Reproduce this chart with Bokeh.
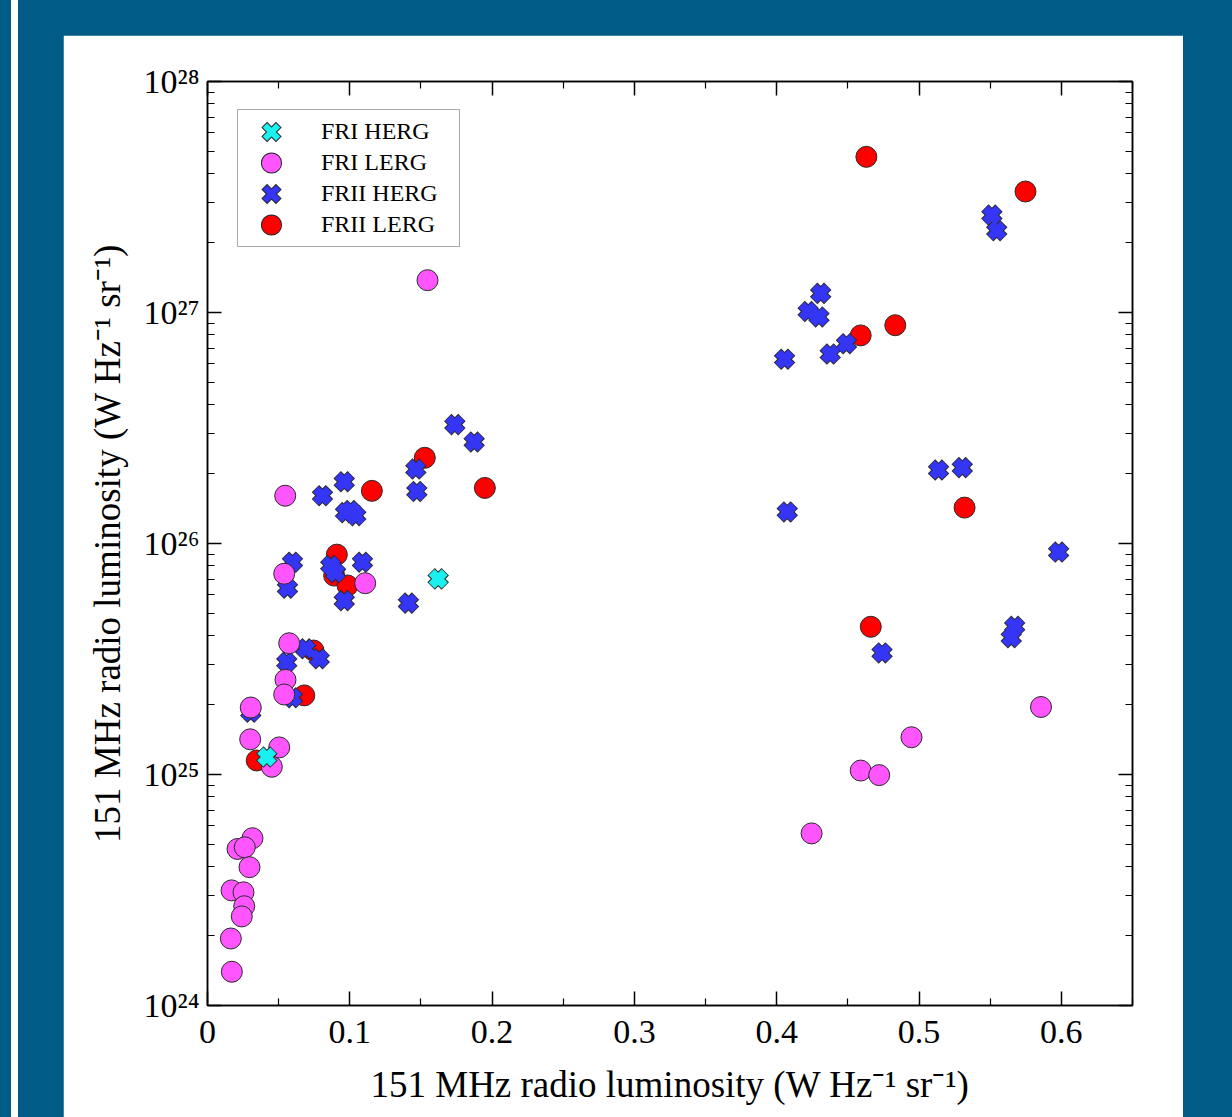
from bokeh.plotting import figure
from bokeh.layouts import row
from bokeh.models import (Range1d, LogAxis, LinearAxis, FixedTicker, CustomJSTickFormatter,
                          Legend, LegendItem, Div)
from bokeh.embed import file_html
from bokeh.resources import INLINE

# ---------------- data ----------------
fri_herg_x = [0.1621, 0.0417]
fri_herg_y = [7.03e25, 1.19e25]

fri_lerg_x = [0.1546, 0.0546, 0.0539, 0.1108, 0.0574, 0.0548, 0.0539, 0.0304, 0.0300,
              0.0504, 0.0452, 0.0316, 0.0211, 0.0262, 0.0295, 0.0169, 0.0253, 0.0258,
              0.0241, 0.0164, 0.0171, 0.5857, 0.4947, 0.4590, 0.4720, 0.4245]
fri_lerg_y = [1.38e27, 1.61e26, 7.40e25, 6.73e25, 3.70e25, 2.57e25, 2.22e25, 1.95e25, 1.42e25,
              1.31e25, 1.08e25, 5.30e24, 4.76e24, 4.84e24, 3.97e24, 3.15e24, 3.09e24, 2.69e24,
              2.43e24, 1.95e24, 1.40e24, 1.96e25, 1.45e25, 1.04e25, 9.94e24, 5.56e24]

frii_herg_x = [0.1738, 0.1874, 0.1464, 0.1471, 0.0961, 0.0808, 0.0970, 0.1042, 0.1005,
               0.0597, 0.0562, 0.0866, 0.0900, 0.1089, 0.0961, 0.1412, 0.0557, 0.0785,
               0.0691, 0.0597, 0.0304, 0.5512, 0.5546, 0.4309, 0.4221, 0.4297, 0.4490,
               0.4376, 0.4055, 0.4074, 0.5137, 0.5304, 0.5981, 0.4740, 0.5672, 0.5648]
frii_herg_y = [3.27e26, 2.75e26, 2.10e26, 1.68e26, 1.85e26, 1.61e26, 1.36e26, 1.32e26, 1.39e26,
               8.30e25, 6.41e25, 8.03e25, 7.48e25, 8.30e25, 5.66e25, 5.52e25, 3.06e25, 3.17e25,
               3.50e25, 2.15e25, 1.86e25, 2.64e27, 2.26e27, 1.21e27, 1.01e27, 9.57e26, 7.33e26,
               6.61e26, 6.28e26, 1.37e26, 2.08e26, 2.13e26, 9.18e25, 3.36e25, 4.38e25, 3.91e25]

frii_lerg_x = [0.1527, 0.1949, 0.1155, 0.0909, 0.0890, 0.0984, 0.0745, 0.0680, 0.0346,
               0.4630, 0.5748, 0.4833, 0.4590, 0.5320, 0.4661]
frii_lerg_y = [2.35e26, 1.74e26, 1.69e26, 8.95e25, 7.26e25, 6.58e25, 3.44e25, 2.20e25, 1.15e25,
               4.72e27, 3.34e27, 8.81e26, 7.96e26, 1.43e26, 4.36e25]

labels = ["FRI HERG", "FRI LERG", "FRII HERG", "FRII LERG"]
x_major = [0, 0.1, 0.2, 0.3, 0.4, 0.5, 0.6]
x_minor = [0.05, 0.15, 0.25, 0.35, 0.45, 0.55, 0.65]
y_major = [1e24, 1e25, 1e26, 1e27, 1e28]
y_minor = [k * 10.0 ** n for n in range(24, 28) for k in range(2, 10)]

x_label = "151 MHz radio luminosity (W Hz\u207b\u00b9 sr\u207b\u00b9)"
y_label = "151 MHz radio luminosity (W Hz\u207b\u00b9 sr\u207b\u00b9)"

# ---------------- style ----------------
BG = "#015b87"
FONT = "Liberation Serif"
C_CYAN = "#1af0f0"
C_MAG = "#ff55ff"
C_BLUE = "#3535f5"
C_RED = "#ff0000"
EDGE = "#2a2a2a"

p = figure(width=1120, height=1082, x_range=Range1d(0, 0.65), y_range=Range1d(1e24, 1e28),
           y_axis_type="log", output_backend="svg", toolbar_location=None,
           title_location=None,
           min_border_left=144, min_border_right=51, min_border_top=46, min_border_bottom=112,
           border_fill_color="white", background_fill_color="white",
           outline_line_color="black", outline_line_width=1.5,
           margin=(35, 0, 0, 45))
p.grid.visible = False

xt = FixedTicker(ticks=x_major, minor_ticks=x_minor)
yt = FixedTicker(ticks=y_major, minor_ticks=y_minor)

xfmt = CustomJSTickFormatter(code="return tick == 0 ? '0' : tick.toFixed(1);")
yfmt = CustomJSTickFormatter(code="""
const sup = {'0':'\u2070','1':'\u00b9','2':'\u00b2','3':'\u00b3','4':'\u2074','5':'\u2075','6':'\u2076','7':'\u2077','8':'\u2078','9':'\u2079','-':'\u207b'};
const e = Math.round(Math.log10(tick));
return '10' + String(e).split('').map(c => sup[c]).join('');
""")
blank = CustomJSTickFormatter(code="return '';")


def style_axis(ax):
    ax.axis_line_color = "black"
    ax.axis_line_width = 1.5
    ax.major_tick_in = 14
    ax.major_tick_out = 0
    ax.minor_tick_in = 7
    ax.minor_tick_out = 0
    ax.major_tick_line_color = "black"
    ax.major_tick_line_width = 1.5
    ax.minor_tick_line_color = "black"
    ax.minor_tick_line_width = 1.2
    ax.major_label_text_font = FONT
    ax.major_label_text_font_size = "34px"
    ax.major_label_text_color = "black"
    ax.axis_label_text_font = FONT
    ax.axis_label_text_font_size = "37px"
    ax.axis_label_text_font_style = "normal"
    ax.axis_label_text_color = "black"


xa = p.xaxis[0]
xa.ticker = xt
xa.formatter = xfmt
style_axis(xa)
xa.major_label_standoff = 15
xa.axis_label = x_label
xa.axis_label_standoff = 18

ya = p.yaxis[0]
ya.ticker = yt
ya.formatter = yfmt
style_axis(ya)
ya.major_label_standoff = 8
ya.axis_label = y_label
ya.axis_label_standoff = 12

top = LinearAxis(ticker=xt, formatter=blank)
style_axis(top)
top.major_label_text_font_size = "0px"
top.major_label_standoff = 0
p.add_layout(top, "above")

right = LogAxis(ticker=yt, formatter=blank)
style_axis(right)
right.major_label_text_font_size = "0px"
right.major_label_standoff = 0
p.add_layout(right, "right")

# ---------------- glyphs (bottom to top) ----------------
r_red = p.scatter(frii_lerg_x, frii_lerg_y, marker="circle", size=21,
                  fill_color=C_RED, line_color=EDGE, line_width=1)

r_blue_o = p.scatter(frii_herg_x, frii_herg_y, marker="x", size=20,
                     line_color=EDGE, line_width=10.5)
r_blue_f = p.scatter(frii_herg_x, frii_herg_y, marker="x", size=18.5,
                     line_color=C_BLUE, line_width=8.5)

r_mag = p.scatter(fri_lerg_x, fri_lerg_y, marker="circle", size=21,
                  fill_color=C_MAG, line_color=EDGE, line_width=1)

r_cyan_o = p.scatter(fri_herg_x, fri_herg_y, marker="x", size=20,
                     line_color=EDGE, line_width=10.5)
r_cyan_f = p.scatter(fri_herg_x, fri_herg_y, marker="x", size=18.5,
                     line_color=C_CYAN, line_width=8.5)

# legend-only swatches: a single NaN point (never drawn in the plot);
# the legend computes their size from the glyph box
NAN = float("nan")


def circle_swatch(color):
    a = p.scatter([NAN], [NAN], marker="circle", fill_color=color,
                  line_color=EDGE, line_width=8.8)
    b = p.scatter([NAN], [NAN], marker="circle", fill_color=color,
                  line_color=color, line_width=6.8)
    return [a, b]


def x_swatch(color):
    a = p.scatter([NAN], [NAN], marker="x", line_color=EDGE, line_width=8.2,
                  line_cap="square")
    b = p.scatter([NAN], [NAN], marker="x", line_color=color, line_width=6.2,
                  line_cap="square")
    return [a, b]


legend = Legend(items=[
    LegendItem(label=labels[0], renderers=x_swatch(C_CYAN)),
    LegendItem(label=labels[1], renderers=circle_swatch(C_MAG)),
    LegendItem(label=labels[2], renderers=x_swatch(C_BLUE)),
    LegendItem(label=labels[3], renderers=circle_swatch(C_RED)),
], location=(30, 758))
legend.glyph_width = 54
legend.glyph_height = 31
legend.label_height = 31
legend.label_width = 132
legend.spacing = 0
legend.padding = 6
legend.margin = 0
legend.label_standoff = 23
legend.label_text_font = FONT
legend.label_text_font_size = "24px"
legend.label_text_color = "black"
legend.label_text_baseline = "middle"
legend.border_line_color = "#555555"
legend.border_line_width = 1.5
legend.background_fill_color = "white"
legend.background_fill_alpha = 1
p.add_layout(legend, "center")

stripe = Div(width=7, height=1117, margin=(0, 0, 0, 11),
             styles={"background-color": "white"})
root = row(stripe, p, width=1232, height=1117, spacing=0,
           styles={"background-color": BG})

with open("out.html", "w", encoding="utf-8") as f:
    f.write(file_html(root, INLINE))
